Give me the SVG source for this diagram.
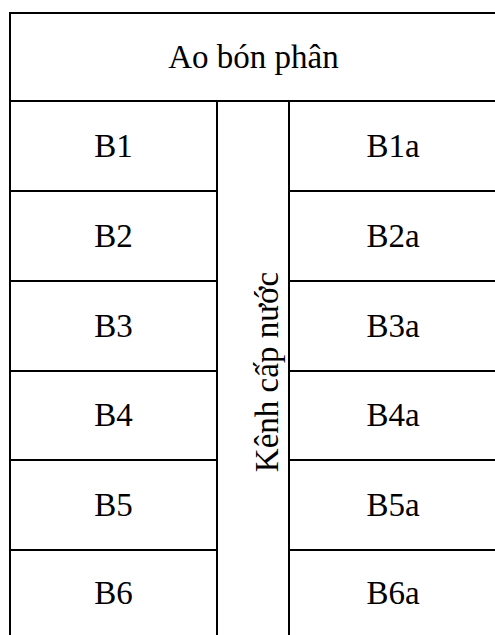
<svg xmlns="http://www.w3.org/2000/svg" width="495" height="635" viewBox="0 0 495 635">
  <style>
    .ln { stroke: #000; stroke-width: 2; fill: none; }
    .t { font-family: 'Liberation Serif', 'Times New Roman', serif; font-size: 33px; fill: #000; text-anchor: middle; }
  </style>
  <rect width="495" height="635" fill="#fff"/>

  <!-- grid lines of the plan -->
  <g id="grid">
    <line class="ln" x1="10" y1="13" x2="495" y2="13"/>
    <line class="ln" x1="10" y1="12" x2="10" y2="635"/>
    <line class="ln" x1="10" y1="101" x2="495" y2="101"/>
    <line class="ln" x1="217" y1="101" x2="217" y2="635"/>
    <line class="ln" x1="289" y1="101" x2="289" y2="635"/>
    <path class="ln" d="M10 191H217M289 191H495M10 281H217M289 281H495M10 371H217M289 371H495M10 460H217M289 460H495M10 550H217M289 550H495"/>
  </g>

  <g id="ao-bon-phan"><text class="t" x="253.5" y="68">Ao bón phân</text></g>

  <g id="B1"><text class="t" x="113.5" y="157">B1</text></g>
  <g id="B2"><text class="t" x="113.5" y="247">B2</text></g>
  <g id="B3"><text class="t" x="113.5" y="337">B3</text></g>
  <g id="B4"><text class="t" x="113.5" y="426">B4</text></g>
  <g id="B5"><text class="t" x="113.5" y="516">B5</text></g>
  <g id="B6"><text class="t" x="113.5" y="604">B6</text></g>

  <g id="B1a"><text class="t" x="393" y="157">B1a</text></g>
  <g id="B2a"><text class="t" x="393" y="247">B2a</text></g>
  <g id="B3a"><text class="t" x="393" y="337">B3a</text></g>
  <g id="B4a"><text class="t" x="393" y="426">B4a</text></g>
  <g id="B5a"><text class="t" x="393" y="516">B5a</text></g>
  <g id="B6a"><text class="t" x="393" y="604">B6a</text></g>

  <g id="kenh-cap-nuoc"><text class="t" transform="translate(278 372) rotate(-90)">Kênh cấp nước</text></g>
</svg>
